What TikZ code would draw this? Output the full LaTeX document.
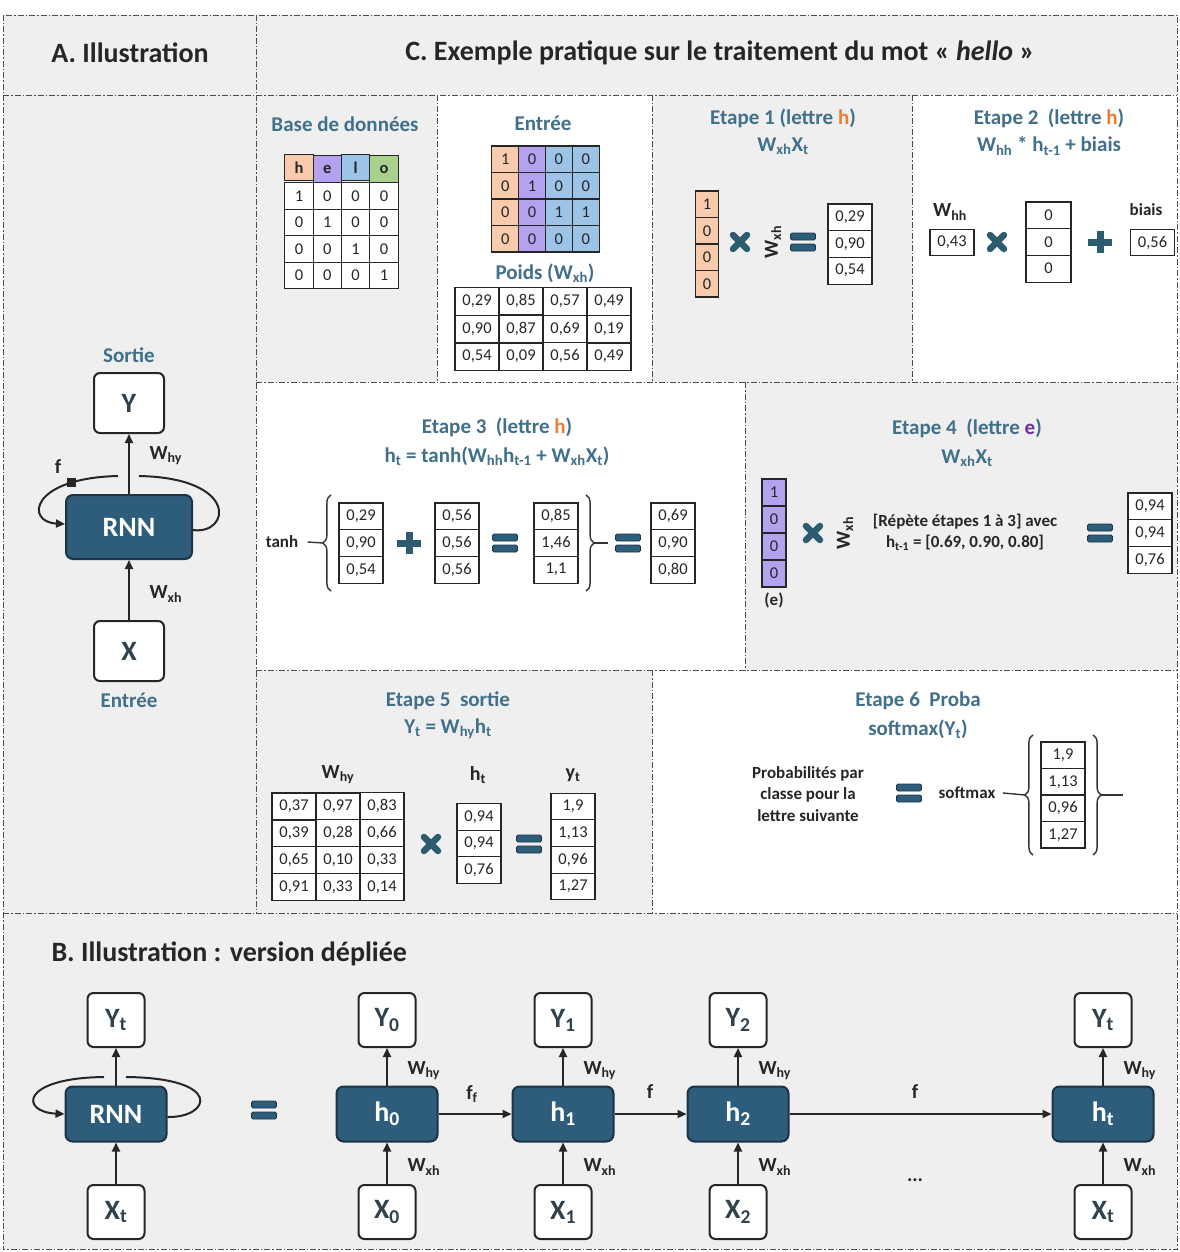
\documentclass[tikz,border=0pt]{standalone}
\usepackage{fontspec}
\setmainfont{Carlito}
\usetikzlibrary{arrows.meta,matrix,decorations.pathreplacing}

\definecolor{bgray}{RGB}{239,239,239}
\definecolor{ttlc}{RGB}{64,112,138}
\definecolor{rnnc}{RGB}{46,93,123}
\definecolor{rnnd}{RGB}{28,52,70}
\definecolor{opc}{RGB}{45,92,112}
\definecolor{eqc}{RGB}{44,94,124}
\definecolor{boxt}{RGB}{48,66,78}
\definecolor{hcol}{RGB}{248,203,173}
\definecolor{ecol}{RGB}{181,162,238}
\definecolor{lcol}{RGB}{157,195,230}
\definecolor{ocol}{RGB}{169,209,142}
\definecolor{horange}{RGB}{237,125,49}
\definecolor{epurple}{RGB}{112,48,160}

\newcommand{\sbs}[1]{\textsubscript{#1}}
\newcommand{\fsz}[2]{\fontsize{#1}{#2}\selectfont}
\newcommand{\opmul}[1]{\draw[opc, line width=6.5pt, line cap=round, shift={(#1)}] (-7,-7) -- (7,7) (7,-7) -- (-7,7);}
\newcommand{\opadd}[1]{\draw[opc, line width=7pt, shift={(#1)}] (-12,0) -- (12,0) (0,-11) -- (0,11);}
\newcommand{\opeq}[1]{\filldraw[fill=eqc, draw=rnnd, line width=0.8pt, rounded corners=1.5pt, shift={(#1)}] (-12.5,-9) rectangle (12.5,-2) (-12.5,2) rectangle (12.5,9);}

\tikzset{
  sep/.style={draw=black!70, line width=0.9pt, dash pattern=on 6pt off 2pt on 1.5pt off 2pt},
  head/.style={font=\fsz{28}{32}\bfseries, text=black!85},
  ttl/.style={font=\fsz{21}{25}\bfseries, text=ttlc},
  lbl/.style={font=\fsz{17}{21.5}\bfseries, text=black!85, align=center},
  wlbl/.style={font=\fsz{20}{24}\bfseries, text=black!85},
  tcell/.style={draw=black!85, line width=1.1pt, fill=white, inner sep=0pt, minimum width=44pt, minimum height=26.7pt, font=\fsz{16.5}{18}, text=black!85},
  tabv/.style={matrix of nodes, nodes={tcell}, row sep=-1.1pt, column sep=-1.1pt},
  io/.style={draw=black!85, line width=2pt, fill=white, rounded corners=6pt, minimum width=57pt, minimum height=54pt, inner sep=0pt, font=\fsz{28}{30}\bfseries, text=boxt},
  hnode/.style={draw=rnnd, line width=2pt, fill=rnnc, rounded corners=7pt, minimum width=101pt, minimum height=55pt, inner sep=0pt, font=\fsz{28}{30}\bfseries, text=white},
  flow/.style={line width=2pt, draw=black!85, -{Triangle[length=9pt,width=8pt]}},
  recur/.style={line width=2pt, draw=black!85},
  brc/.style={decorate, decoration={brace, amplitude=8pt}, line width=1.4pt, draw=black!80},
}

\begin{document}
\begin{tikzpicture}[x=1pt, y=-1pt]
\useasboundingbox (0,0) rectangle (1179,1252);
\fill[white] (0,0) rectangle (1179,1252);
\fill[bgray] (3,15) rectangle (1177,95);
\fill[bgray] (3,95) rectangle (256,913);
\fill[bgray] (256,95) rectangle (437,382);
\fill[bgray] (652,95) rectangle (912,382);
\fill[bgray] (745,382) rectangle (1177,670);
\fill[bgray] (256,670) rectangle (652,913);
\fill[bgray] (3,913) rectangle (1177,1249);
\draw[sep] (3,15) rectangle (1177,1249);
\draw[sep] (3,95) -- (1177,95);
\draw[sep] (256,15) -- (256,913);
\draw[sep] (3,913) -- (1177,913);
\draw[sep] (437,95) -- (437,382) (652,95) -- (652,382) (912,95) -- (912,382);
\draw[sep] (256,382) -- (1177,382);
\draw[sep] (745,382) -- (745,670);
\draw[sep] (256,670) -- (1177,670);
\draw[sep] (652,670) -- (652,913);

\node[head] (hA) at (130,53) {A. Illustration};
\node[head] (hC) at (720,53) {C. Exemple pratique sur le traitement du mot « \textit{hello} »};

% A. Illustration
\node[ttl] (sortie) at (129,355) {Sortie};
\node[io, minimum width=70pt, minimum height=60pt] (y) at (129,403) {Y};
\node[hnode, minimum width=126pt, minimum height=64pt] (rnn) at (129,527) {RNN};
\node[io, minimum width=70pt, minimum height=60pt] (x) at (129,651) {X};
\node[ttl] (entree) at (129,700) {Entrée};
\draw[flow] (rnn.north) -- (y.south);
\draw[flow] (x.north) -- (rnn.south);
\node[wlbl, anchor=west] (why) at (146,456) {W\sbs{hy}};
\node[wlbl, anchor=west] (wxh) at (146,594) {W\sbs{xh}};
\draw[recur] ([yshift=-3pt]rnn.east) .. controls (230,535) and (240,478) .. (139,476);
\draw[recur, -{Triangle[length=9pt,width=8pt]}] (118,476) .. controls (30,478) and (25,522) .. ([yshift=3pt]rnn.west)
  node[pos=0.22, fill=black!85, minimum size=9pt, inner sep=0pt] (fsq) {};
\node[wlbl] (flbl) at (58,467) {f};

% B. version depliee
\node[head, anchor=west] (hB) at (48,954) {B. Illustration : version dépliée};
\node[io] (yt) at (116,1020) {Y\sbs{t}};
\node[hnode] (rnnb) at (116,1114) {RNN};
\node[io] (xt) at (116,1212) {X\sbs{t}};
\draw[flow] (rnnb.north) -- (yt.south);
\draw[flow] (xt.north) -- (rnnb.south);
\draw[recur] ([yshift=-3pt]rnnb.east) .. controls (210,1118) and (225,1078) .. (126,1077);
\draw[recur, -{Triangle[length=9pt,width=8pt]}] (104,1077) .. controls (20,1078) and (20,1112) .. (rnnb.west);
\opeq{264,1110}
\foreach \i/\px/\s in {0/387/0, 1/563/1, 2/738/2, 3/1103/t} {
  \node[hnode] (h\i) at (\px,1114) {h\sbs{\s}};
  \node[io] (y\i) at (\px,1020) {Y\sbs{\s}};
  \node[io] (x\i) at (\px,1212) {X\sbs{\s}};
  \draw[flow] (h\i.north) -- (y\i.south);
  \draw[flow] (x\i.north) -- (h\i.south);
  \node[wlbl, anchor=west] (why\i) at (\px+17,1071) {W\sbs{hy}};
  \node[wlbl, anchor=west] (wxh\i) at (\px+17,1167) {W\sbs{xh}};
}
\draw[flow] (h0) -- (h1);
\draw[flow] (h1) -- (h2);
\draw[flow] (h2) -- (h3);
\node[wlbl] (f01) at (472,1094) {f\sbs{f}};
\node[wlbl] (f12) at (650,1092) {f};
\node[wlbl] (f23) at (915,1092) {f};
\node[wlbl] (dots) at (915,1180) {...};

% Base de donnees / Entree
\node[ttl] (tbase) at (345,124) {Base de données};
\matrix[tabv, nodes={minimum width=28.3pt, minimum height=26.6pt}] (base) at (341.5,221.5) {
  |[fill=hcol]|\textbf{h} & |[fill=ecol]|\textbf{e} & |[fill=lcol]|\textbf{l} & |[fill=ocol]|\textbf{o} \\
  1 & 0 & 0 & 0 \\
  0 & 1 & 0 & 0 \\
  0 & 0 & 1 & 0 \\
  0 & 0 & 0 & 1 \\
};
\node[ttl] (tentree) at (543,123) {Entrée};
\matrix[tabv, nodes={minimum width=26.8pt, minimum height=26.5pt},
  column 1/.style={nodes={fill=hcol}}, column 2/.style={nodes={fill=ecol}},
  column 3/.style={nodes={fill=lcol}}, column 4/.style={nodes={fill=lcol}}] (xin) at (545.5,199) {
  1 & 0 & 0 & 0 \\
  0 & 1 & 0 & 0 \\
  0 & 0 & 1 & 1 \\
  0 & 0 & 0 & 0 \\
};
\node[ttl] (tpoids) at (545,273) {Poids (W\sbs{xh})};
\matrix[tabv, nodes={minimum height=27.3pt}] (wxhm) at (543,329) {
  0,29 & 0,85 & 0,57 & 0,49 \\
  0,90 & 0,87 & 0,69 & 0,19 \\
  0,54 & 0,09 & 0,56 & 0,49 \\
};

% Etape 1
\node[ttl] (t1) at (783,118) {Etape 1 (lettre \textcolor{horange}{h})};
\node[ttl] (f1) at (783,146) {W\sbs{xh}X\sbs{t}};
\matrix[tabv, nodes={fill=hcol, minimum width=22.5pt, minimum height=26.5pt}] (x1) at (707,244) {1\\0\\0\\0\\};
\opmul{740,242}
\node[wlbl, rotate=90] (w1) at (773,242) {W\sbs{xh}};
\opeq{803,242}
\matrix[tabv] (r1) at (850,244) {0,29\\0,90\\0,54\\};

% Etape 2
\node[ttl] (t2) at (1049,118) {Etape 2~ (lettre \textcolor{horange}{h})};
\node[ttl] (f2) at (1049,146) {W\sbs{hh} * h\sbs{t-1} + biais};
\node[wlbl] (whh) at (950,212) {W\sbs{hh}};
\node[tcell] (whhv) at (952,242.5) {0,43};
\opmul{997,242}
\matrix[tabv, nodes={minimum width=45pt}] (hprev) at (1048.5,242) {0\\0\\0\\};
\opadd{1100,242}
\node[lbl] (biais) at (1146,210) {biais};
\node[tcell] (bv) at (1152.5,242.5) {0,56};

% Etape 3
\node[ttl] (t3) at (497,427) {Etape 3~ (lettre \textcolor{horange}{h})};
\node[ttl] (f3) at (497,456) {h\sbs{t} = tanh(W\sbs{hh}h\sbs{t-1} + W\sbs{xh}X\sbs{t})};
\node[lbl] (tanh) at (282,542) {tanh};
\matrix[tabv] (a3) at (361,543) {0,29\\0,90\\0,54\\};
\opadd{409,543}
\matrix[tabv] (b3) at (457,543) {0,56\\0,56\\0,56\\};
\opeq{505,543}
\matrix[tabv] (c3) at (556,543) {0,85\\1,46\\1,1\\};
\opeq{628,543}
\matrix[tabv] (d3) at (673,543) {0,69\\0,90\\0,80\\};
\draw[brc] ([shift={(-4pt,-4pt)}]a3.south west) -- ([shift={(-4pt,4pt)}]a3.north west);
\draw[brc] ([shift={(4pt,4pt)}]c3.north east) -- ([shift={(4pt,-4pt)}]c3.south east);
\coordinate (ltip3) at ([xshift=-12pt]a3.west);
\coordinate (rtip3) at ([xshift=12pt]c3.east);
\draw[line width=1.4pt, black!80] ([xshift=6pt]tanh.east) -- (ltip3);
\draw[line width=1.4pt, black!80] (rtip3) -- ++(14,0);

% Etape 4
\node[ttl] (t4) at (967,428) {Etape 4~ (lettre \textcolor{epurple}{e})};
\node[ttl] (f4) at (967,458) {W\sbs{xh}X\sbs{t}};
\matrix[tabv, nodes={fill=ecol, minimum width=24pt, minimum height=27pt}] (x4) at (774,533) {1\\0\\0\\0\\};
\node[lbl] (e4) at (774,600) {(e)};
\opmul{813,533}
\node[wlbl, rotate=90] (w4) at (845,533) {W\sbs{xh}};
\node[lbl] (rep) at (965,532) {[Répète étapes 1 à 3] avec\\h\sbs{t-1} = [0.69, 0.90, 0.80]};
\opeq{1100,533}
\matrix[tabv] (r4) at (1150,533) {0,94\\0,94\\0,76\\};

% Etape 5
\node[ttl] (t5) at (448,701) {Etape 5~ sortie};
\node[ttl] (f5) at (448,729) {Y\sbs{t} = W\sbs{hy}h\sbs{t}};
\node[wlbl] (lwhy) at (338,775) {W\sbs{hy}};
\matrix[tabv] (whym) at (338,846.5) {
  0,37 & 0,97 & 0,83 \\
  0,39 & 0,28 & 0,66 \\
  0,65 & 0,10 & 0,33 \\
  0,91 & 0,33 & 0,14 \\
};
\opmul{431,844}
\node[wlbl] (lht) at (478,775) {h\sbs{t}};
\matrix[tabv] (ht5) at (479,843.5) {0,94\\0,94\\0,76\\};
\opeq{529,844}
\node[wlbl] (lyt) at (573,775) {y\sbs{t}};
\matrix[tabv] (yt5) at (573,846.5) {1,9\\1,13\\0,96\\1,27\\};

% Etape 6
\node[ttl] (t6) at (918,701) {Etape 6~ Proba};
\node[ttl] (f6) at (918,729) {softmax(Y\sbs{t})};
\node[lbl] (prob) at (808,794) {Probabilités par\\classe pour la\\lettre suivante};
\opeq{909,793}
\node[lbl] (smax) at (967,793) {softmax};
\matrix[tabv, nodes={minimum height=26.5pt}] (p6) at (1063,795) {1,9\\1,13\\0,96\\1,27\\};
\draw[brc] ([shift={(-4pt,-3pt)}]p6.south west) -- ([shift={(-4pt,3pt)}]p6.north west);
\draw[brc] ([shift={(4pt,3pt)}]p6.north east) -- ([shift={(4pt,-3pt)}]p6.south east);
\coordinate (ltip6) at ([xshift=-12pt]p6.west);
\coordinate (rtip6) at ([xshift=12pt]p6.east);
\draw[line width=1.4pt, black!80] ([xshift=4pt]smax.east) -- (ltip6);
\draw[line width=1.4pt, black!80] (rtip6) -- ++(22,0);
\end{tikzpicture}
\end{document}
